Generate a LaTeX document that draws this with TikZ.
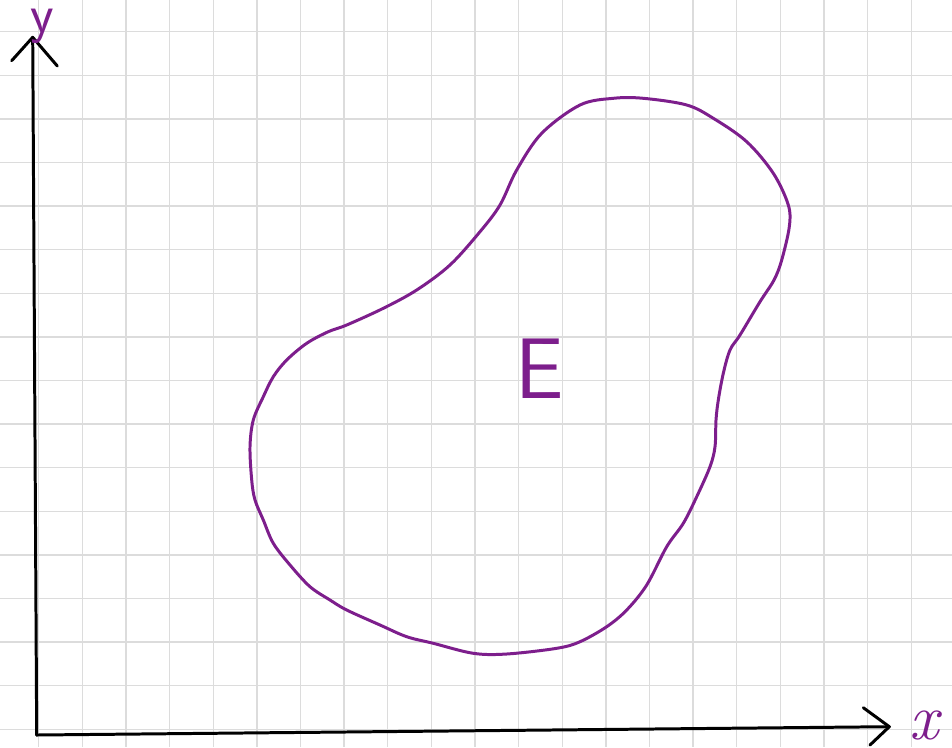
\documentclass[tikz,border=0pt]{standalone}
\definecolor{blobpurple}{RGB}{125,30,140}
\definecolor{gridgray}{RGB}{220,220,220}
\tikzset{
  gridline/.style={draw=gridgray, line width=0.8pt},
  axisline/.style={draw=black, line width=1.7pt, line cap=round, line join=round},
  blobline/.style={draw=blobpurple, line width=1.7pt, line join=round},
  purplelabel/.style={text=blobpurple, inner sep=0pt, anchor=base}
}
\begin{document}
\begin{tikzpicture}[x=0.02cm, y=-0.02cm]
\useasboundingbox (0,0) rectangle (952,747);
\fill[white] (0,0) rectangle (952,747);
% grid
\foreach \k in {0,...,20} {
  \draw[gridline] ({38.7+\k*43.63},0) -- ({38.7+\k*43.63},747);
}
\foreach \k in {0,...,16} {
  \draw[gridline] (0,{31.7+\k*43.6}) -- (952,{31.7+\k*43.6});
}
% axes
\coordinate (origin) at (36.7,735);
\coordinate (ytip) at (32.7,37.3);
\coordinate (yarmL) at (11.7,60.7);
\coordinate (yarmR) at (57.3,66);
\coordinate (xtip) at (889.3,726.7);
\coordinate (xarmU) at (863.3,707.7);
\coordinate (xarmD) at (870,745);
\draw[axisline] (origin) -- (ytip);
\draw[axisline] (yarmL) -- (ytip) -- (yarmR);
\draw[axisline] (origin) -- (xtip);
\draw[axisline] (xarmU) -- (xtip) -- (xarmD);
% labels
\node[purplelabel] (ylab) at (42,32) {\fontsize{31}{31}\selectfont\sffamily y};
\node[purplelabel] (xlab) at (924,739) {\fontsize{37}{37}\selectfont\itshape x};
\node[purplelabel] (elab) at (540,398) {\fontsize{49}{49}\selectfont\sffamily E};
% region E
\draw[blobline] plot[smooth cycle, tension=0.55] coordinates {
(541.7,133.3) (580,105) (613.3,98.3) (643.3,98.3) (686.7,105) (713.3,118.3)
(746.7,141.7) (773.3,173.3) (788.3,205) (789.3,226.7) (781.7,260) (774,280)
(760,301.7) (740,335) (730,350) (723.3,373.3) (718.3,400) (716,420) (715,446.7)
(710,466.7) (696.7,496.7) (683.3,523.3) (666.7,546.7) (646.7,585) (626.7,610)
(606.7,626.7) (580,641.7) (556.7,648.3) (506.7,654) (473.3,653.3) (433.3,643.3)
(406.7,636.7) (380,625) (346.7,610) (330,600) (310,586.7) (290,565) (273.3,543.3)
(263.3,520) (255,500) (251.7,480) (250,446.7) (253.3,420) (263.3,396.7)
(273.3,376.7) (286.7,360) (306.7,343.3) (328.3,331.7) (346.7,325) (383.3,308.3)
(416.7,290) (450,265) (480,231.7) (500,205) (516.7,170)
};
\end{tikzpicture}
\end{document}
